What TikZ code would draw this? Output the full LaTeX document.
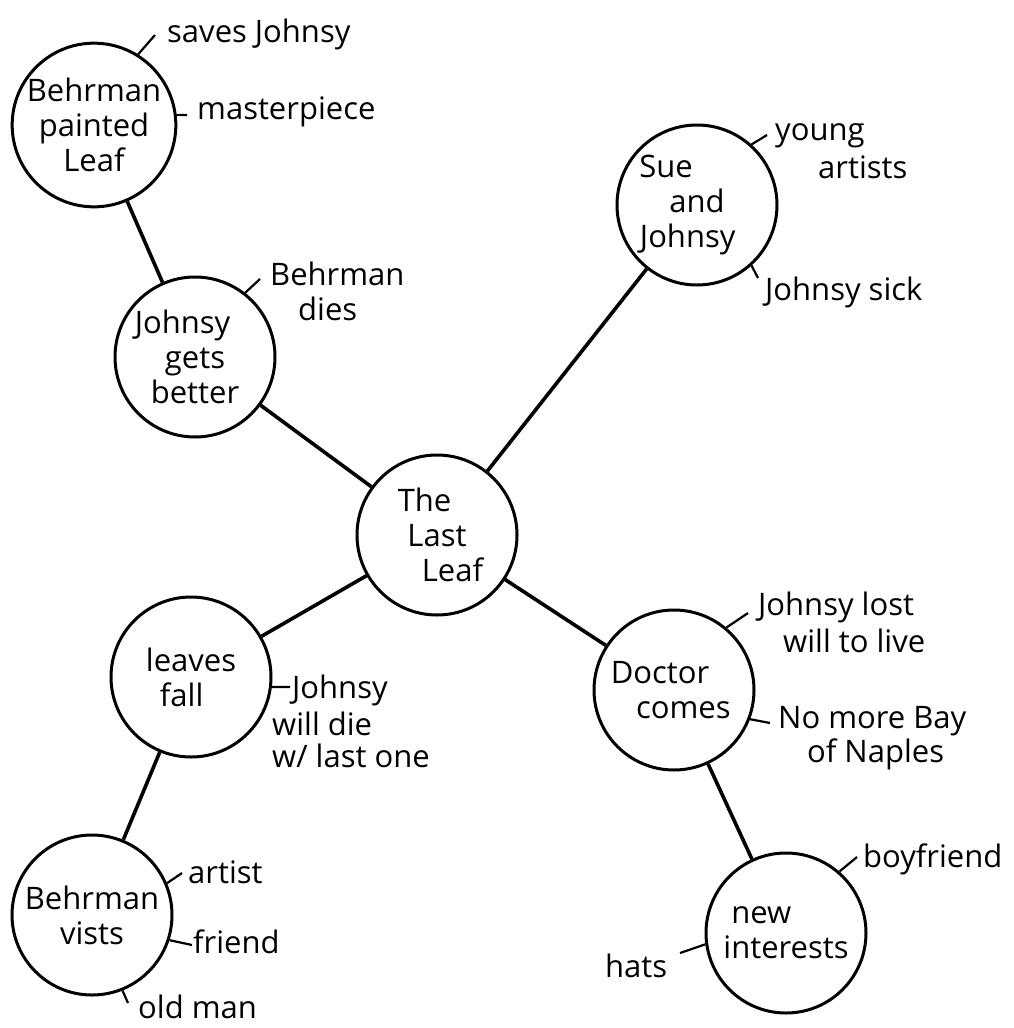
\documentclass[tikz,border=0pt]{standalone}
\usepackage{fontspec}
\setmainfont{Open Sans}
\newfontfamily\handfont{Open Sans}
\newcommand{\hand}{\handfont\fontsize{31}{35}\selectfont}
\begin{document}
\begin{tikzpicture}[x=1pt,y=-1pt,
  topic/.style={circle, draw, line width=3pt, minimum size=160pt, inner sep=0pt, align=center, font=\hand},
  link/.style={line width=3.6pt},
  tickline/.style={line width=2.2pt},
  note/.style={anchor=base west, inner sep=0pt, font=\hand}]
\useasboundingbox (0,0) rectangle (1013,1028);
\fill[white] (0,0) rectangle (1013,1028);

% topic circles
\node[topic] (leaf) at (437,535) {The\hspace*{0.8em}\\Last\hspace*{2.2em}\\\hspace*{1em}Leaf};
\node[topic] (bp)   at (94,125)  {Behrman\\painted\\Leaf};
\node[topic] (jgb)  at (195,357) {Johnsy\hspace*{0.8em}\\gets\hspace*{2.2em}\\better};
\node[topic] (sue)  at (697,205) {Sue\hspace*{2em}\\and\\Johnsy\hspace*{0.6em}};
\node[topic] (lf)   at (191,677) {leaves\\fall\hspace*{0.6em}};
\node[topic] (doc)  at (674,690) {Doctor\hspace*{0.9em}\\\hspace*{0.6em}comes};
\node[topic] (bv)   at (92,915)  {Behrman\\vists};
\node[topic] (ni)   at (786,933) {new\hspace*{1.6em}\\interests};

% main links
\draw[link] (bp) -- (jgb);
\draw[link] (jgb) -- (leaf);
\draw[link] (leaf) -- (sue);
\draw[link] (leaf) -- (lf);
\draw[link] (leaf) -- (doc);
\draw[link] (lf) -- (bv);
\draw[link] (doc) -- (ni);

% tick ends
\coordinate (tsaves)  at (155,35);
\coordinate (tmaster) at (187,115);
\coordinate (tdies)   at (260,279);
\coordinate (tyoung)  at (767,135);
\coordinate (tsick)   at (758,278);
\coordinate (tdie)    at (290,687);
\coordinate (tlost)   at (748,613);
\coordinate (tnaples) at (770,723);
\coordinate (tartist) at (182,873);
\coordinate (tfriend) at (192,945);
\coordinate (told)    at (128,1003);
\coordinate (tboy)    at (857,857);
\coordinate (thats)   at (680,953);

% ticks
\draw[tickline] (bp.58) -- (tsaves);
\draw[tickline] (bp.7) -- (tmaster);
\draw[tickline] (jgb.52) -- (tdies);
\draw[tickline] (sue.48) -- (tyoung);
\draw[tickline] (sue.-48) -- (tsick);
\draw[tickline] (lf.-7) -- (tdie);
\draw[tickline] (doc.50) -- (tlost);
\draw[tickline] (doc.-21) -- (tnaples);
\draw[tickline] (bv.23) -- (tartist);
\draw[tickline] (bv.-18) -- (tfriend);
\draw[tickline] (bv.-68) -- (told);
\draw[tickline] (ni.49) -- (tboy);
\draw[tickline] (ni.188) -- (thats);

% labels
\node[note] (saves)  at (167,42)  {saves Johnsy};
\node[note] (master) at (197,119) {masterpiece};
\node[note] (dies1)  at (270,285) {Behrman};
\node[note] (dies2)  at (298,320) {dies};
\node[note] (young1) at (775,140) {young};
\node[note] (young2) at (818,178) {artists};
\node[note] (sick)   at (765,300) {Johnsy sick};
\node[note] (die1)   at (292,698) {Johnsy};
\node[note] (die2)   at (272,735) {will die};
\node[note] (die3)   at (272,767) {w/ last one};
\node[note] (lost1)  at (758,615) {Johnsy lost};
\node[note] (lost2)  at (783,652) {will to live};
\node[note] (nap1)   at (778,728) {No more Bay};
\node[note] (nap2)   at (807,762) {of Naples};
\node[note] (artist) at (188,883) {artist};
\node[note] (friend) at (193,953) {friend};
\node[note] (old)    at (138,1018) {old man};
\node[note] (boy)    at (863,867) {boyfriend};
\node[note] (hats)   at (605,977) {hats};
\end{tikzpicture}
\end{document}
